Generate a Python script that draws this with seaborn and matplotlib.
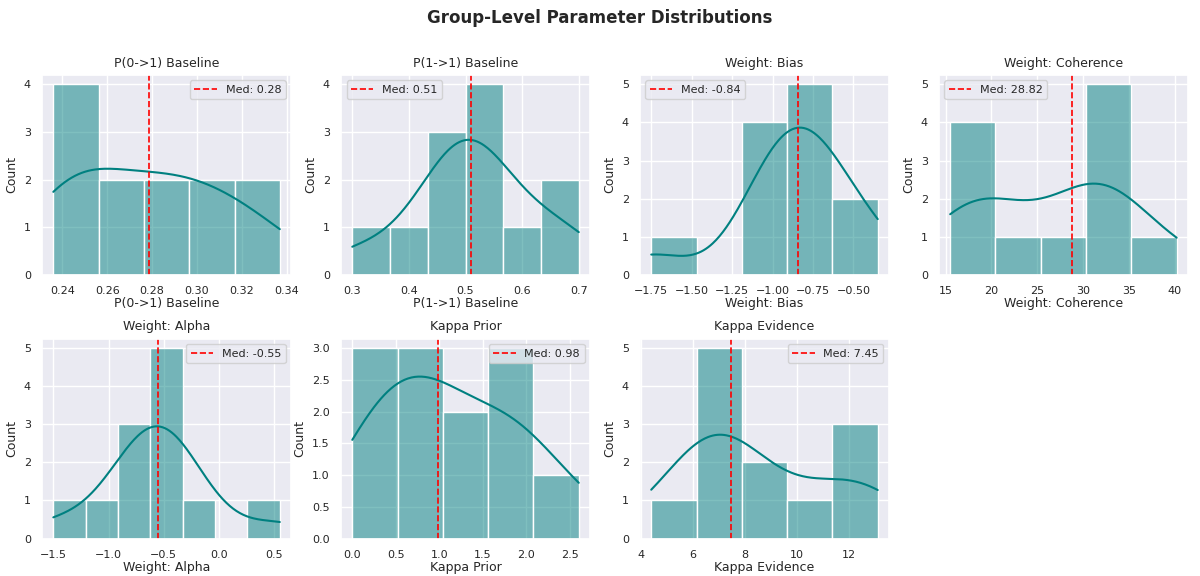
import numpy as np
import matplotlib
matplotlib.use("Agg")
import matplotlib.pyplot as plt
import seaborn as sns

# sample values (12 per parameter)
p01 = [0.236, 0.240, 0.245, 0.250, 0.262, 0.275, 0.282, 0.290, 0.300, 0.310, 0.320, 0.337]
p11 = [0.30, 0.40, 0.45, 0.47, 0.49, 0.505, 0.515, 0.53, 0.55, 0.60, 0.65, 0.70]
w_bias = [-1.75, -1.15, -1.05, -0.98, -0.92, -0.86, -0.82, -0.75, -0.70, -0.65, -0.50, -0.35]
w_coh = [15.5, 17.0, 18.5, 20.0, 22.0, 27.3, 30.34, 31.0, 32.0, 33.0, 34.5, 40.2]
w_alpha = [-1.5, -1.0, -0.85, -0.75, -0.65, -0.6, -0.5, -0.45, -0.4, -0.35, -0.1, 0.55]
k_prior = [0.0, 0.2, 0.4, 0.6, 0.8, 0.91, 1.05, 1.4, 1.7, 1.9, 2.0, 2.6]
k_evid = [4.4, 6.3, 6.6, 6.8, 6.9, 7.0, 7.9, 9.0, 10.5, 12.0, 12.5, 13.1]

names = ["P(0->1) Baseline", "P(1->1) Baseline", "Weight: Bias", "Weight: Coherence",
         "Weight: Alpha", "Kappa Prior", "Kappa Evidence"]
datasets = [p01, p11, w_bias, w_coh, w_alpha, k_prior, k_evid]
nbins = [5, 6, 5, 5, 7, 5, 5]

sns.set_theme(style="darkgrid")
fig, axes = plt.subplots(2, 4, figsize=(12, 5.76), dpi=100)
axes = axes.flatten()

for i, (name, vals) in enumerate(zip(names, datasets)):
    ax = axes[i]
    sns.histplot(vals, bins=nbins[i], kde=True, color="teal", ax=ax)
    med = np.median(vals)
    ax.axvline(med, color="red", linestyle="--", linewidth=1.2, label=f"Med: {med:.2f}")
    ax.set_title(name, fontsize=9)
    ax.set_xlabel(name, fontsize=9, labelpad=1)
    ax.set_ylabel("Count", fontsize=9)
    ax.tick_params(labelsize=8, pad=2)
    ax.legend(fontsize=8)

axes[7].axis("off")
fig.suptitle("Group-Level Parameter Distributions", fontsize=12, fontweight="bold", y=0.985)
plt.subplots_adjust(left=0.035, right=0.99, top=0.87, bottom=0.065, wspace=0.2, hspace=0.32)
plt.savefig("out.png")
